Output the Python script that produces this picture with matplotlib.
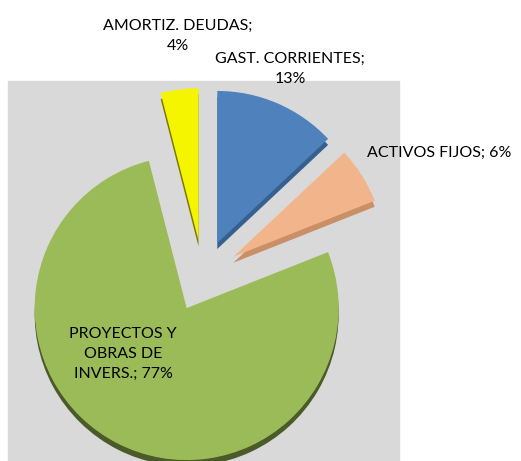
import matplotlib.pyplot as plt
from matplotlib.patches import Rectangle

categorias = ["GAST. CORRIENTES", "ACTIVOS FIJOS", "PROYECTOS Y OBRAS DE INVERS.", "AMORTIZ. DEUDAS"]
porcentajes = [13, 6, 77, 4]
colores = ["#4f81bd", "#f2b48a", "#9bbb59", "#f5f500"]
colores_sombra = ["#36608f", "#c98f66", "#4a5a28", "#7a7a00"]
etiquetas = ["GAST. CORRIENTES;\n13%", "ACTIVOS FIJOS; 6%", "PROYECTOS Y\nOBRAS DE\nINVERS.; 77%", "AMORTIZ. DEUDAS;\n4%"]

plt.rcParams['font.family'] = ['Lato', 'DejaVu Sans']

fig = plt.figure(figsize=(5.21, 4.61), dpi=100)
ax = fig.add_axes([0, 0, 1, 1])

# fondo gris del área de trazado
ax.add_patch(Rectangle((8, 0), 391, 380, color="#d9d9d9", zorder=0))

centro = (203, 185)
radio = 152
# en matplotlib el desplazamiento va en unidades de datos
separa = [36] * 4

# sombra para dar grosor (efecto 3D)
ax.pie(porcentajes, colors=colores_sombra, startangle=90, counterclock=False,
       radius=radio, center=(centro[0], centro[1] - 6), explode=separa,
       wedgeprops=dict(linewidth=0), frame=True)
ax.pie(porcentajes, colors=colores, startangle=90, counterclock=False,
       radius=radio, center=centro, explode=separa,
       wedgeprops=dict(linewidth=0), frame=True)
ax.set_xlim(0, 521)
ax.set_ylim(0, 461)
ax.set_aspect('equal')
ax.axis('off')

fs = 11.5
ax.text(178, 461 - 36, etiquetas[3], ha='center', va='center', fontsize=fs, linespacing=1.5)
ax.text(290, 461 - 69, etiquetas[0], ha='center', va='center', fontsize=fs, linespacing=1.5)
ax.text(367, 461 - 153, etiquetas[1], ha='left', va='center', fontsize=fs)
ax.text(123, 461 - 354, etiquetas[2], ha='center', va='center', fontsize=fs, linespacing=1.5)

fig.savefig("out.png", dpi=100)
